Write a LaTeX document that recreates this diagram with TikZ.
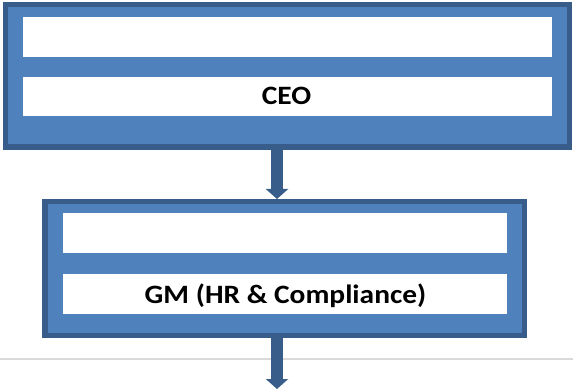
\documentclass[tikz,border=0pt]{standalone}
\usepackage{fontspec}
\setmainfont{Carlito}
\usetikzlibrary{arrows.meta}
\definecolor{boxblue}{HTML}{4F81BD}
\definecolor{boxedge}{HTML}{385D8A}
\definecolor{rulegray}{HTML}{D9D9D9}
\newcommand{\widetitle}[1]{\scalebox{1.11}[1]{#1}}
\begin{document}
\begin{tikzpicture}[x=1pt,y=-1pt,
  outerbox/.style={draw=boxedge, fill=boxblue, line width=5.5pt, inner sep=0pt, rectangle},
  bar/.style={fill=white, inner sep=0pt, rectangle},
  title/.style={font=\bfseries\fontsize{26.5}{31}\selectfont, text=black,
    inner sep=0pt, text height=17pt, text depth=0pt},
  link/.style={draw=boxedge, line width=12pt, -{Triangle[width=22pt,length=10pt]}},
  separator/.style={draw=rulegray, line width=1.4pt}]
\useasboundingbox (0,0) rectangle (573,390);

% thin separator rule across the page
\coordinate (ruleL) at (0,359);
\coordinate (ruleR) at (573,359);
\draw[separator] (ruleL) -- (ruleR);

% CEO block
\node[outerbox, minimum width=564pt, minimum height=142.5pt] (ceo) at (287.5,76) {};
\node[bar, minimum width=529pt, minimum height=40pt] (ceoTop) at (287.5,37) {};
\node[bar, minimum width=529pt, minimum height=39pt] (ceoBar) at (287.5,96.5) {};
\node[title] (ceoText) at (286.5,96.5) {\widetitle{CEO}};

% GM block
\node[outerbox, minimum width=479.5pt, minimum height=133.5pt] (gm) at (284.5,268.5) {};
\node[bar, minimum width=444pt, minimum height=40pt] (gmTop) at (285,233) {};
\node[bar, minimum width=444pt, minimum height=40pt] (gmBar) at (285,294) {};
\node[title] (gmText) at (285.5,295) {\widetitle{GM (HR \& Compliance)}};

% reporting line
\coordinate (spine) at (277,0);
\coordinate (below) at (277,389);
\draw[link] (spine |- ceo.south) -- (spine |- gm.north);
\draw[link] (spine |- gm.south) -- (below);
\end{tikzpicture}
\end{document}
